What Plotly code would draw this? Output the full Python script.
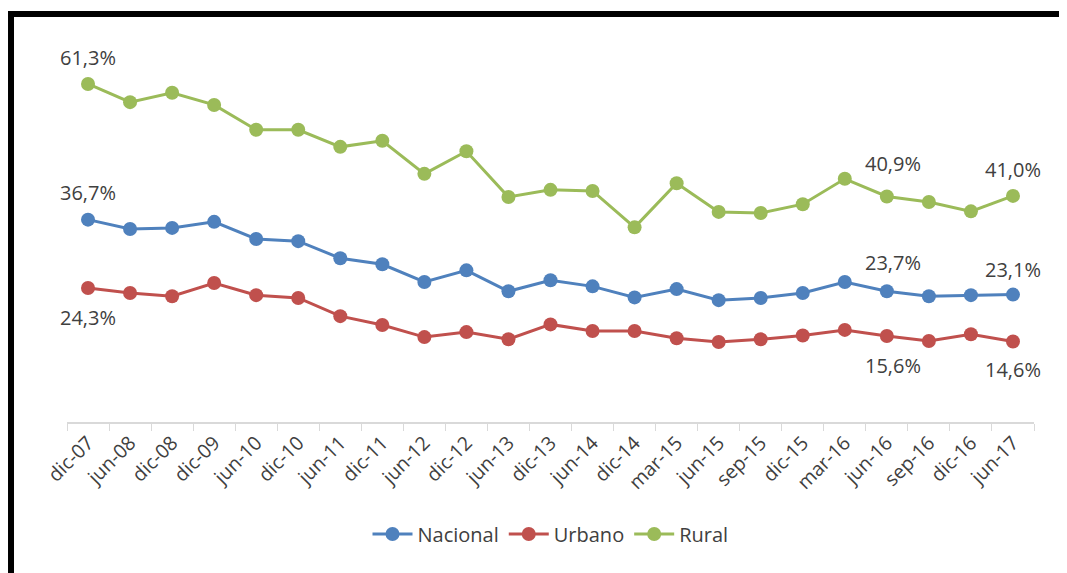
import plotly.graph_objects as go

periodos = ["dic-07", "jun-08", "dic-08", "dic-09", "jun-10", "dic-10", "jun-11", "dic-11",
            "jun-12", "dic-12", "jun-13", "dic-13", "jun-14", "dic-14", "mar-15", "jun-15",
            "sep-15", "dic-15", "mar-16", "jun-16", "sep-16", "dic-16", "jun-17"]

nacional = [36.7, 35.0, 35.2, 36.3, 33.2, 32.8, 29.7, 28.6, 25.4, 27.5, 23.7, 25.7,
            24.6, 22.6, 24.1, 22.1, 22.5, 23.4, 25.4, 23.7, 22.8, 23.0, 23.1]
urbano = [24.3, 23.4, 22.8, 25.2, 23.0, 22.5, 19.2, 17.6, 15.4, 16.3, 15.0, 17.7,
          16.5, 16.5, 15.2, 14.5, 15.0, 15.7, 16.7, 15.6, 14.7, 15.9, 14.6]
rural = [61.3, 58.0, 59.7, 57.5, 53.0, 53.0, 49.9, 51.0, 45.0, 49.1, 40.8, 42.1,
         41.9, 35.3, 43.3, 38.1, 37.9, 39.5, 44.1, 40.9, 39.9, 38.2, 41.0]

series = [("Nacional", nacional, "#4F81BD"),
          ("Urbano", urbano, "#C0504D"),
          ("Rural", rural, "#9BBB59")]

fig = go.Figure()
for name, vals, color in series:
    fig.add_trace(go.Scatter(
        x=periodos, y=vals, name=name, mode="lines+markers",
        line=dict(color=color, width=3),
        marker=dict(color=color, size=14),
    ))

def fmt(v):
    return f"{v:.1f}%".replace(".", ",")

# labelled points: (series values, index, yshift)
labels = [
    (rural, 0, 26), (nacional, 0, 27), (urbano, 0, -29),
    (rural, 19, 33), (nacional, 19, 29), (urbano, 19, -30),
    (rural, 22, 26), (nacional, 22, 25), (urbano, 22, -28),
]
for vals, i, ys in labels:
    xs = 6 if i == 19 else 0
    fig.add_annotation(x=periodos[i], y=vals[i], text=fmt(vals[i]), showarrow=False,
                       yshift=ys, xshift=xs,
                       font=dict(family="Open Sans, Lato, sans-serif", size=20, color="#404040"))

# frame (black border at top and left)
fig.add_shape(type="line", xref="paper", yref="paper", x0=-0.062, x1=1.05,
              y0=1.057, y1=1.057, line=dict(color="black", width=6))
fig.add_shape(type="line", xref="paper", yref="paper", x0=-0.0579, x1=-0.0579,
              y0=1.065, y1=-0.5, line=dict(color="black", width=6))

fig.update_layout(
    width=1059, height=565,
    margin=dict(l=59, r=33, t=28, b=151),
    paper_bgcolor="white", plot_bgcolor="white",
    font=dict(family="Open Sans, Lato, sans-serif", color="#404040"),
    showlegend=True,
    legend=dict(orientation="h", x=0.5, xanchor="center", y=-0.29, yanchor="middle",
                font=dict(size=20, color="#404040"), itemwidth=40, traceorder="normal"),
    xaxis=dict(type="category", tickangle=-45, tickson="boundaries", ticks="outside",
               ticklen=7, tickcolor="#D9D9D9", showline=True, linecolor="#D9D9D9",
               linewidth=1.5, showgrid=False, tickfont=dict(size=19.5, color="#404040"),
               range=[-0.5, 22.5], automargin=False),
    yaxis=dict(range=[0, 70], visible=False, showgrid=False, zeroline=False),
)

fig.write_html("out.html")
